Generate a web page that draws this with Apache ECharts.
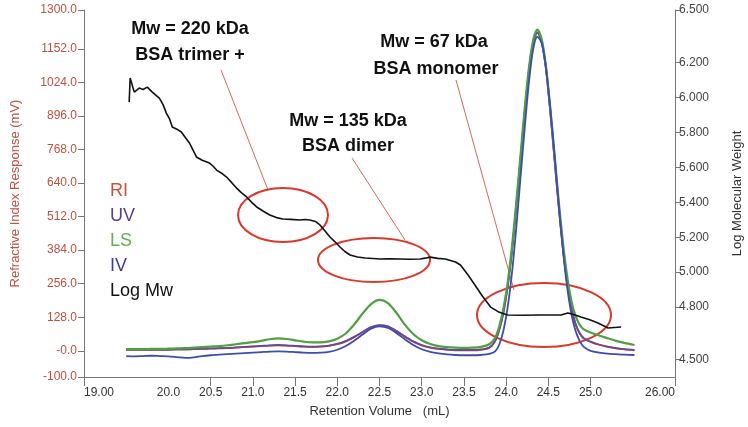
<!DOCTYPE html>
<html>
<head>
<meta charset="utf-8">
<script src="https://cdn.jsdelivr.net/npm/echarts@6/dist/echarts.min.js"></script>
<style>
  html, body { margin: 0; padding: 0; background: #fff; }
  #main { width: 748px; height: 427px; }
</style>
</head>
<body>
<div id="main"></div>
<script>
// retention volume grid (mL) shared by the detector traces
var vol = [19.5, 19.6, 19.7, 19.8, 19.9, 20.0, 20.1, 20.2, 20.3, 20.4,
           20.5, 20.6, 20.7, 20.8, 20.9, 21.0, 21.1, 21.2, 21.3, 21.4,
           21.5, 21.6, 21.7, 21.8, 21.9, 22.0, 22.1, 22.2, 22.3, 22.4,
           22.5, 22.6, 22.7, 22.8, 22.9, 23.0, 23.1, 23.2, 23.3, 23.4,
           23.5, 23.6, 23.7, 23.8, 23.87, 23.92, 23.97, 24.02, 24.07, 24.12,
           24.17, 24.22, 24.27, 24.32, 24.37, 24.42, 24.47, 24.52, 24.57, 24.62,
           24.67, 24.72, 24.77, 24.82, 24.87, 24.92, 25.0, 25.1, 25.2, 25.3,
           25.4, 25.52];

// detector responses (mV)
var riData = [4, 4, 4, 4, 4, 4, 5, 5, 6, 7,
              8, 9, 10, 12, 14, 16, 18, 20, 21, 20,
              18, 16, 15, 16, 19, 25, 36, 52, 71, 89,
              97, 92, 75, 54, 35, 21, 12, 7, 4, 2,
              2, 2, 4, 11, 37, 81, 149, 249, 384, 549,
              731, 911, 1067, 1174, 1214, 1179, 1079, 921, 741, 559,
              397, 264, 167, 104, 67, 47, 34, 23, 15, 9,
              5, 2];
var uvData = [5, 5, 5, 5, 5, 5, 6, 6, 7, 8,
              9, 10, 11, 13, 15, 17, 19, 21, 22, 21,
              19, 17, 16, 17, 20, 26, 37, 53, 72, 90,
              98, 93, 76, 55, 36, 22, 13, 8, 5, 3,
              3, 3, 5, 12, 38, 82, 150, 250, 385, 550,
              732, 912, 1068, 1175, 1215, 1180, 1080, 922, 742, 560,
              398, 265, 168, 105, 68, 48, 35, 24, 16, 10,
              6, 3];
var lsData = [6, 6, 6, 7, 7, 8, 9, 10, 12, 14,
              16, 18, 21, 25, 29, 33, 38, 44, 47, 45,
              40, 35, 32, 32, 36, 46, 66, 100, 142, 178,
              194, 182, 145, 100, 64, 40, 26, 18, 14, 12,
              11, 12, 15, 25, 50, 95, 165, 265, 400, 565,
              745, 925, 1080, 1185, 1225, 1190, 1090, 935, 760, 580,
              420, 290, 195, 135, 100, 82, 70, 58, 48, 38,
              30, 22];
var ivData = [-20, -21, -20, -19, -20, -21, -24, -27, -25, -20,
              -17, -15, -13, -11, -9, -7, -5, -3, -2, -3,
              -5, -7, -8, -7, -4, 4, 18, 38, 62, 84,
              93, 87, 68, 44, 22, 6, -4, -10, -14, -16,
              -17, -17, -16, -12, -2, 25, 80, 170, 300, 470,
              660, 850, 1025, 1150, 1198, 1175, 1085, 935, 760, 570,
              395, 250, 145, 78, 38, 15, 0, -7, -11, -13,
              -15, -16];

// log molecular weight trace
var mwVol = [19.535, 19.547, 19.595, 19.654, 19.700, 19.749, 19.809, 19.892, 19.935, 19.975,
             20.010, 20.046, 20.100, 20.153, 20.200, 20.249, 20.290, 20.332, 20.400, 20.486,
             20.530, 20.570, 20.630, 20.688, 20.750, 20.807, 20.870, 20.926, 20.990, 21.045,
             21.120, 21.200, 21.280, 21.354, 21.450, 21.556, 21.620, 21.675, 21.740, 21.794,
             21.850, 21.913, 21.970, 22.032, 22.090, 22.151, 22.240, 22.330, 22.420, 22.508,
             22.620, 22.746, 22.860, 22.983, 23.040, 23.102, 23.190, 23.280, 23.400, 23.459,
             23.540, 23.614, 23.720, 23.816, 23.920, 24.018, 24.200, 24.400, 24.648, 24.731,
             24.800, 24.886, 24.990, 25.088, 25.207, 25.280, 25.362];
var logMw = [5.973, 6.111, 6.030, 6.053, 6.045, 6.059, 6.030, 5.996, 5.960, 5.910,
             5.880, 5.830, 5.818, 5.802, 5.770, 5.739, 5.700, 5.659, 5.640, 5.624,
             5.606, 5.584, 5.566, 5.544, 5.512, 5.481, 5.452, 5.430, 5.398, 5.373,
             5.350, 5.327, 5.312, 5.304, 5.302, 5.298, 5.301, 5.298, 5.290, 5.270,
             5.238, 5.201, 5.175, 5.144, 5.118, 5.098, 5.087, 5.081, 5.078, 5.075,
             5.076, 5.075, 5.074, 5.075, 5.080, 5.086, 5.079, 5.075, 5.058, 5.041,
             4.990, 4.938, 4.862, 4.800, 4.770, 4.755, 4.753, 4.755, 4.755, 4.766,
             4.758, 4.743, 4.728, 4.709, 4.680, 4.683, 4.686];

// axis ticks / labels
var xTicks = [19, 20.5, 21, 21.5, 22, 22.5, 23, 23.5, 24, 24.5, 25, 26];
var xLabels = [19, 20, 20.5, 21, 21.5, 22, 22.5, 23, 23.5, 24, 24.5, 25, 26];
var riTicks = [-100, 0, 128, 256, 384, 512, 640, 768, 896, 1024, 1152, 1300];
var mwTicks = [4.5, 4.8, 5.0, 5.2, 5.4, 5.6, 5.8, 6.0, 6.2, 6.5];

function pairs(xs, ys) {
    var out = [];
    for (var i = 0; i < xs.length; i++) out.push([xs[i], ys[i]]);
    return out;
}

var FONT = 'Arial, "Liberation Sans", Helvetica, sans-serif';
var RED = '#c0503f';

var myChart = echarts.init(document.getElementById('main'));

var option = {
    animation: false,
    backgroundColor: '#fff',
    textStyle: { fontFamily: FONT },
    grid: { left: 84, right: 73, top: 10, bottom: 50, outerBoundsMode: 'none' },
    legend: {
        orient: 'vertical',
        left: 100,
        top: 177,
        icon: 'none',
        itemWidth: 0,
        itemHeight: 18,
        itemGap: 7,
        selectedMode: false,
        textStyle: { fontSize: 18, fontFamily: FONT },
        data: [
            { name: 'RI', textStyle: { color: '#c8503c' } },
            { name: 'UV', textStyle: { color: '#5a3e84' } },
            { name: 'LS', textStyle: { color: '#5fae4f' } },
            { name: 'IV', textStyle: { color: '#3a3aa0' } },
            { name: 'Log Mw', textStyle: { color: '#111' } }
        ]
    },
    xAxis: {
        type: 'value',
        min: 19,
        max: 26,
        name: 'Retention Volume   (mL)',
        nameLocation: 'middle',
        nameGap: 28,
        nameTextStyle: { fontSize: 13, color: '#333' },
        splitLine: { show: false },
        axisLine: { onZero: false, lineStyle: { color: '#777' } },
        axisTick: { customValues: xTicks, length: 9, lineStyle: { color: '#777' } },
        axisLabel: {
            customValues: xLabels,
            fontSize: 12,
            color: '#333',
            margin: 10,
            alignMinLabel: 'left',
            alignMaxLabel: 'right',
            formatter: function (v) {
                return (v === 19 || v === 26) ? v.toFixed(2) : v.toFixed(1);
            }
        }
    },
    yAxis: [{
        type: 'value',
        min: -100,
        max: 1300,
        position: 'left',
        name: 'Refractive Index Response (mV)',
        nameLocation: 'middle',
        nameGap: 62,
        nameRotate: 90,
        nameTextStyle: { fontSize: 13, color: RED },
        splitLine: { show: false },
        axisLine: { show: true, onZero: false, lineStyle: { color: '#777' } },
        axisTick: { show: true, customValues: riTicks, length: 6, lineStyle: { color: '#777' } },
        axisLabel: {
            customValues: riTicks,
            fontSize: 12,
            color: RED,
            margin: 7,
            formatter: function (v) { return v === 0 ? '-0.0' : v.toFixed(1); }
        }
    }, {
        type: 'value',
        min: 4.4,
        max: 6.5,
        position: 'right',
        name: 'Log Molecular Weight',
        nameLocation: 'middle',
        nameGap: 56,
        nameRotate: 90,
        nameTextStyle: { fontSize: 13, color: '#333' },
        splitLine: { show: false },
        axisLine: { show: true, onZero: false, lineStyle: { color: '#777' } },
        axisTick: { show: true, customValues: mwTicks, length: 6, lineStyle: { color: '#777' } },
        axisLabel: {
            customValues: mwTicks,
            fontSize: 12,
            color: '#444',
            margin: 4,
            formatter: function (v) { return v.toFixed(3); }
        }
    }],
    series: [
        { name: 'RI', type: 'line', yAxisIndex: 0, showSymbol: false, smooth: 0.3,
          data: pairs(vol, riData), lineStyle: { color: '#b0453c', width: 1.8 }, itemStyle: { color: '#b0453c' } },
        { name: 'UV', type: 'line', yAxisIndex: 0, showSymbol: false, smooth: 0.3,
          data: pairs(vol, uvData), lineStyle: { color: '#6a4a8f', width: 1.8 }, itemStyle: { color: '#6a4a8f' } },
        { name: 'LS', type: 'line', yAxisIndex: 0, showSymbol: false, smooth: 0.3,
          data: pairs(vol, lsData), lineStyle: { color: '#4f9f45', width: 2.2 }, itemStyle: { color: '#4f9f45' } },
        { name: 'IV', type: 'line', yAxisIndex: 0, showSymbol: false, smooth: 0.3,
          data: pairs(vol, ivData), lineStyle: { color: '#3d4cb0', width: 1.8 }, itemStyle: { color: '#3d4cb0' } },
        { name: 'Log Mw', type: 'line', yAxisIndex: 1, showSymbol: false,
          data: pairs(mwVol, logMw), lineStyle: { color: '#111', width: 1.6 }, itemStyle: { color: '#111' } }
    ],
    graphic: [
        // annotation labels
        { type: 'text', x: 190, y: 29, style: { text: 'Mw = 220 kDa', font: 'bold 18px ' + FONT, fill: '#111', align: 'center', verticalAlign: 'middle' } },
        { type: 'text', x: 190, y: 55, style: { text: 'BSA trimer +', font: 'bold 18px ' + FONT, fill: '#111', align: 'center', verticalAlign: 'middle' } },
        { type: 'text', x: 348, y: 121, style: { text: 'Mw = 135 kDa', font: 'bold 18px ' + FONT, fill: '#111', align: 'center', verticalAlign: 'middle' } },
        { type: 'text', x: 348, y: 146, style: { text: 'BSA dimer', font: 'bold 18px ' + FONT, fill: '#111', align: 'center', verticalAlign: 'middle' } },
        { type: 'text', x: 434, y: 42, style: { text: 'Mw = 67 kDa', font: 'bold 18px ' + FONT, fill: '#111', align: 'center', verticalAlign: 'middle' } },
        { type: 'text', x: 436, y: 69, style: { text: 'BSA monomer', font: 'bold 18px ' + FONT, fill: '#111', align: 'center', verticalAlign: 'middle' } },
        // pointer lines
        { type: 'line', shape: { x1: 221, y1: 70, x2: 268, y2: 190 }, style: { stroke: '#d9665a', lineWidth: 1 } },
        { type: 'line', shape: { x1: 352, y1: 158, x2: 405, y2: 240 }, style: { stroke: '#d9665a', lineWidth: 1 } },
        { type: 'line', shape: { x1: 456, y1: 80, x2: 514, y2: 290 }, style: { stroke: '#d9665a', lineWidth: 1 } },
        // ellipses
        { type: 'ellipse', shape: { cx: 283, cy: 215, rx: 45, ry: 27 }, style: { fill: 'none', stroke: '#d9382a', lineWidth: 2 } },
        { type: 'ellipse', shape: { cx: 374, cy: 260, rx: 56, ry: 22 }, style: { fill: 'none', stroke: '#d9382a', lineWidth: 2 } },
        { type: 'ellipse', shape: { cx: 544, cy: 315, rx: 67, ry: 32 }, style: { fill: 'none', stroke: '#d9382a', lineWidth: 2 } }
    ]
};

myChart.setOption(option);
</script>
</body>
</html>
